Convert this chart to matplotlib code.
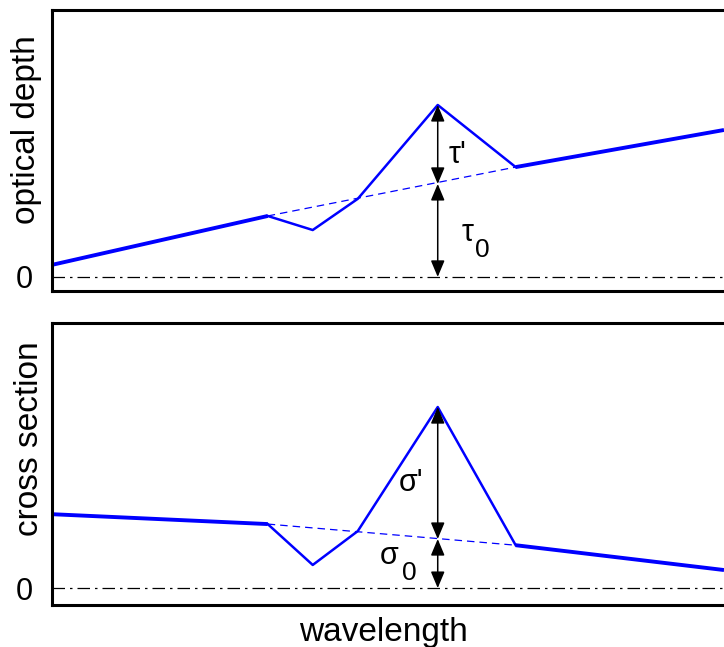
import matplotlib
matplotlib.use("Agg")
import matplotlib.pyplot as plt

plt.rcParams['font.family'] = ['Liberation Sans', 'DejaVu Sans']

# data
wavelength = [0, 32.1, 38.8, 45.5, 57.4, 69.0, 100]
optical_depth = [0.43, 2.17, 1.67, 2.78, 6.12, 3.91, 5.23]
od_baseline_x = [32.1, 69.0]
od_baseline_y = [2.17, 3.91]
od_peak_base = 3.31

cross_section = [2.62, 2.27, 0.82, 2.02, 6.42, 1.52, 0.64]
cs_baseline_x = [32.1, 69.0]
cs_baseline_y = [2.27, 1.52]
cs_peak_base = 1.74

peak_idx = 4
blue = '#0000ff'

fig = plt.figure(figsize=(7.24, 6.47), dpi=100)
W, H = 724, 647

def make_axes(top_px, bot_px):
    ax = fig.add_axes([52 / W, 1 - bot_px / H, (724 - 52) / W, (bot_px - top_px) / H])
    for s in ['left', 'top', 'bottom']:
        ax.spines[s].set_linewidth(2.2)
    ax.spines['right'].set_visible(False)
    ax.set_xlim(0, 100)
    ax.set_xticks([])
    ax.set_yticks([0])
    ax.set_yticklabels(['0'])
    ax.tick_params(axis='y', length=0, pad=14, labelsize=22)
    return ax

def draw(ax, y, bx, by, base):
    # outer thick segments
    ax.plot(wavelength[:2], y[:2], color=blue, lw=2.8, solid_capstyle='butt')
    ax.plot(wavelength[5:], y[5:], color=blue, lw=2.8, solid_capstyle='butt')
    # absorption feature thinner
    ax.plot(wavelength[1:6], y[1:6], color=blue, lw=1.8)
    # baseline
    ax.plot(bx, by, color=blue, lw=0.9, ls=(0, (6, 4)))
    # zero line
    ax.axhline(0, color='black', lw=0.9, ls=(0, (10, 4, 2, 4)))
    xp = wavelength[peak_idx]
    ap = dict(arrowstyle='<|-|>,head_length=1.0,head_width=0.42', color='black',
              lw=1.1, shrinkA=0, shrinkB=0)
    ax.annotate('', xy=(xp, y[peak_idx]), xytext=(xp, base), arrowprops=ap)
    ax.annotate('', xy=(xp, base), xytext=(xp, 0), arrowprops=ap)

ax1 = make_axes(10, 291)
ax1.set_ylim(-0.5, 9.5)
draw(ax1, optical_depth, od_baseline_x, od_baseline_y, od_peak_base)
ax1.text(60.4, 4.34, "τ'", fontsize=22, ha='center', va='center')
ax1.text(61.8, 1.57, "τ", fontsize=22, ha='center', va='center')
ax1.text(64.0, 0.96, "0", fontsize=19, ha='center', va='center')

ax2 = make_axes(323, 605)
ax2.set_ylim(-0.6, 9.4)
draw(ax2, cross_section, cs_baseline_x, cs_baseline_y, cs_peak_base)
ax2.text(53.4, 3.72, "σ'", fontsize=22, ha='center', va='center')
ax2.text(50.1, 1.13, "σ", fontsize=22, ha='center', va='center')
ax2.text(53.1, 0.53, "0", fontsize=19, ha='center', va='center')

fig.text(27 / W, 1 - 130 / H, 'optical depth', rotation=90, fontsize=24,
         ha='center', va='center')
fig.text(30 / W, 1 - 439 / H, 'cross section', rotation=90, fontsize=24,
         ha='center', va='center')
fig.text(383 / W, 1 - 632 / H, 'wavelength', fontsize=24, ha='center', va='center')

fig.savefig('out.png', dpi=100)
